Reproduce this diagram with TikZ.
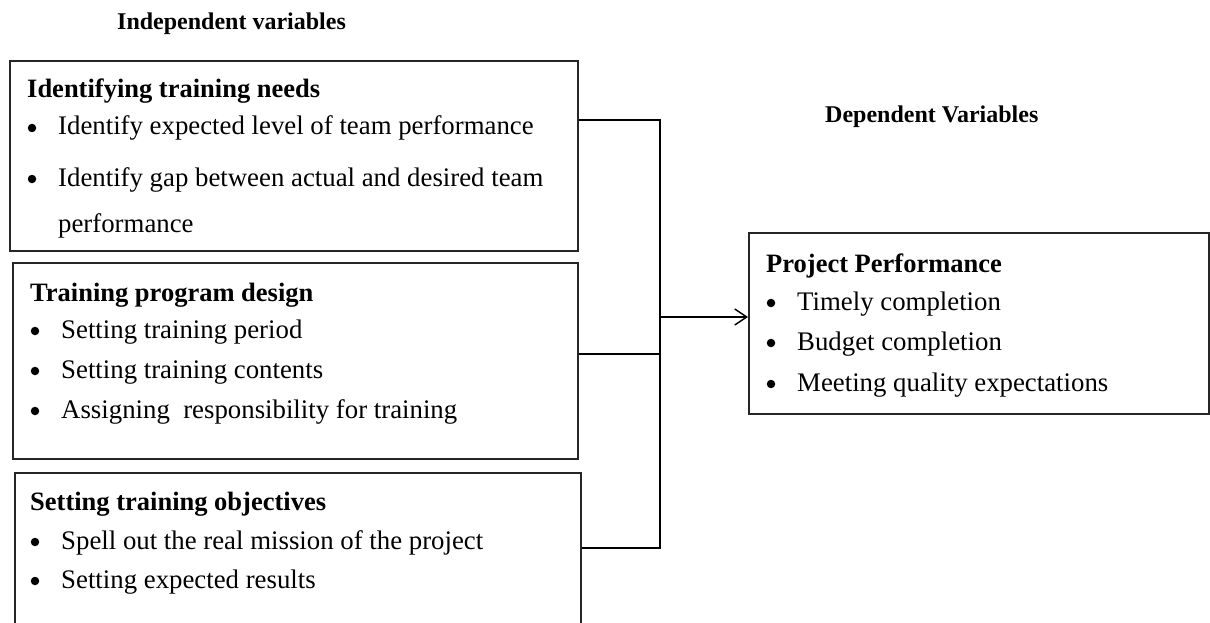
\documentclass[tikz,border=0pt]{standalone}
\usepackage{fontspec}
\setmainfont{Liberation Serif}
\usetikzlibrary{arrows.meta}
\begin{document}
\begin{tikzpicture}[x=1pt,y=-1pt,
  frame/.style={draw=black!85, line width=2pt, inner sep=0pt, anchor=north west},
  txt/.style={anchor=base west, inner sep=0pt, font=\fontsize{26.8}{30}\selectfont},
  head/.style={anchor=base west, inner sep=0pt, font=\fontsize{26.5}{30}\selectfont\bfseries},
  title/.style={anchor=base west, inner sep=0pt, font=\fontsize{24}{28}\selectfont\bfseries},
  dot/.style={circle, fill=black, inner sep=0pt, minimum size=8.5pt},
  link/.style={line width=1.6pt, black}]

% page area
\useasboundingbox (0,0) rectangle (1210,623);
\clip (0,0) rectangle (1210,623);

% column titles
\node[title] (indep) at (117,30) {Independent variables};
\node[title] (dep) at (825,123) {Dependent Variables};

% independent variable boxes
\node[frame, minimum width=568pt, minimum height=190pt] (needs) at (9,60) {};
\node[frame, minimum width=565pt, minimum height=196pt] (design) at (12,262) {};
\node[frame, minimum width=566pt, minimum height=180pt] (objs) at (14,472) {};

% dependent variable box
\node[frame, minimum width=460pt, minimum height=181pt] (perf) at (748,232) {};

% Identifying training needs
\node[head] (needsH) at (27,98) {Identifying training needs};
\node[dot] (nb1) at (32,128) {};
\node[txt] (nt1) at (58,135) {Identify expected level of team performance};
\node[dot] (nb2) at (32,179) {};
\node[txt] (nt2) at (58,186) {Identify gap between actual and desired team};
\node[txt] (nt3) at (58,232) {performance};

% Training program design
\node[head] (designH) at (30,301) {Training program design};
\node[dot] (db1) at (35,331) {};
\node[txt] (dt1) at (61,338) {Setting training period};
\node[dot] (db2) at (35,371) {};
\node[txt] (dt2) at (61,378) {Setting training contents};
\node[dot] (db3) at (35,411) {};
\node[txt] (dt3) at (61,418) {Assigning\ \ responsibility for training};

% Setting training objectives
\node[head] (objsH) at (30,510) {Setting training objectives};
\node[dot] (ob1) at (35,542) {};
\node[txt] (ot1) at (61,549) {Spell out the real mission of the project};
\node[dot] (ob2) at (35,581) {};
\node[txt] (ot2) at (61,588) {Setting expected results};

% Project Performance
\node[head] (perfH) at (766,272) {Project Performance};
\node[dot] (pb1) at (771,303) {};
\node[txt] (pt1) at (797,310) {Timely completion};
\node[dot] (pb2) at (771,343) {};
\node[txt] (pt2) at (797,350) {Budget completion};
\node[dot] (pb3) at (771,384) {};
\node[txt] (pt3) at (797,391) {Meeting quality expectations};

% collecting bus
\coordinate (bustop) at (660,120);
\coordinate (busmid) at (660,354);
\coordinate (busbot) at (660,548);
\coordinate (busout) at (660,317);

\draw[link] (needs.east |- bustop) -- (bustop) -- (busbot) -- (objs.east |- busbot);
\draw[link] (design.east |- busmid) -- (busmid);
\draw[link, -{Straight Barb[length=12pt, width=16pt, line width=1.4pt]}] (busout) -- (perf.west |- busout);
\end{tikzpicture}
\end{document}
